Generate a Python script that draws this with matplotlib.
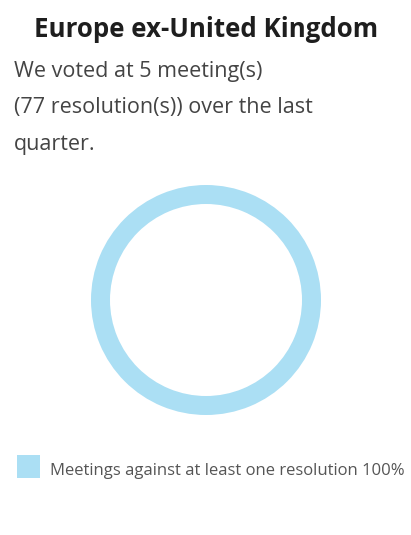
import matplotlib.pyplot as plt
from matplotlib.patches import Rectangle

# data
region = "Europe ex-United Kingdom"
meetings = 5
resolutions = 77
categories = ["Meetings against at least one resolution"]
shares = [100]
colors = ["#abdff4"]

W, H = 411, 535
DPI = 100

plt.rcParams["font.family"] = ["Open Sans", "DejaVu Sans"]

fig = plt.figure(figsize=(W / DPI, H / DPI), dpi=DPI)
fig.patch.set_facecolor("white")


def fx(px):
    return px / W


def fy(py):
    return 1 - py / H


# donut, centred at (206, 300) px
cx, cy, half = 206, 300, 120
ax = fig.add_axes([fx(cx - half), fy(cy + half), 2 * half / W, 2 * half / H])
ax.pie(shares, colors=colors, radius=115, startangle=18, counterclock=False,
       wedgeprops=dict(width=19, edgecolor="none"))
ax.set_xlim(-half, half)
ax.set_ylim(-half, half)
ax.set_aspect("equal")
ax.axis("off")

# title + description
fig.text(fx(206), fy(37), region, ha="center", va="baseline",
         fontsize=18.6, fontweight="bold", color="#1e1e1e")
lines = [f"We voted at {meetings} meeting(s)",
         f"({resolutions} resolution(s)) over the last",
         "quarter."]
for i, line in enumerate(lines):
    fig.text(fx(14), fy(77 + 36.5 * i), line, ha="left", va="baseline",
             fontsize=15.5, fontweight="normal", color="#444444")

# legend
for i, (cat, val, col) in enumerate(zip(categories, shares, colors)):
    y0 = 455 + 30 * i
    fig.patches.append(Rectangle((fx(17), fy(y0 + 23)), 23 / W, 23 / H,
                                 transform=fig.transFigure, facecolor=col,
                                 edgecolor="none"))
    fig.text(fx(50), fy(y0 + 20), f"{cat} {val}%", ha="left", va="baseline",
             fontsize=12, fontweight="normal", color="#555555")

fig.savefig("out.png", dpi=DPI, facecolor="white")
